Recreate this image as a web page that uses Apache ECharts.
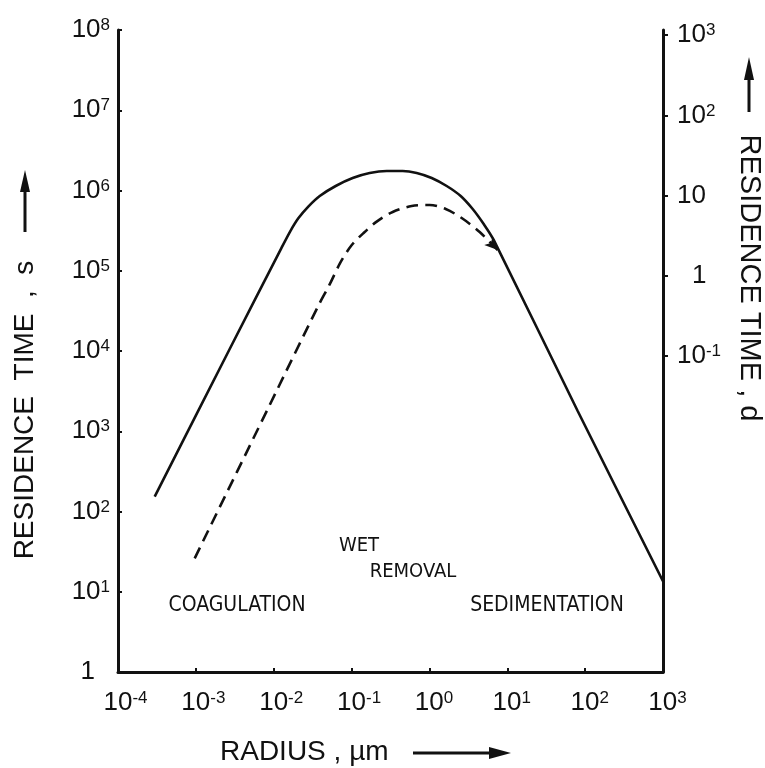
<!DOCTYPE html>
<html>
<head>
<meta charset="utf-8">
<script src="https://cdn.jsdelivr.net/npm/echarts@6/dist/echarts.min.js"></script>
<style>html,body{margin:0;padding:0;background:#fff}#c{width:765px;height:768px}</style>
</head>
<body>
<div id="c"></div>
<script>
// ---- data (radius in µm, residence time in s) ----
const radiusSolid = [2.96e-4, 2.72e-3, 0.0125, 0.0163, 0.0207, 0.0278, 0.039, 0.0625, 0.1033, 0.1709, 0.2826, 0.4535, 0.686, 1.069, 1.666, 2.52, 3.594, 4.977, 6.69, 80.2, 1000];
const timeSolid   = [153, 1.06e4, 1.9e5, 3.1e5, 4.5e5, 6.3e5, 8.54e5, 1.138e6, 1.431e6, 1.652e6, 1.75e6, 1.75e6, 1.652e6, 1.431e6, 1.138e6, 8.54e5, 5.88e5, 3.82e5, 2.42e5, 1788, 13.5];
const radiusDashed = [9.66e-4, 8.88e-3, 0.0367, 0.0525, 0.072, 0.1, 0.145, 0.2102, 0.3374, 0.5918, 1.008, 1.618, 2.597, 4.42, 7.53];
const timeDashed   = [26.1, 2124, 3.535e4, 6.8e4, 1.27e5, 2.08e5, 3.0e5, 4.1e5, 5.4e5, 6.41e5, 6.6e5, 5.88e5, 4.54e5, 3.04e5, 1.814e5];
// ---- tick labels ----
const xTickExponents = [-4, -3, -2, -1, 0, 1, 2, 3];
const leftTickExponents = [0, 1, 2, 3, 4, 5, 6, 7, 8];
const rightTickDays = [0.1, 1, 10, 100, 1000];
const rightTickLabels = ['{b|10}{s|-1}', '{q|}{b|1}', '{b|10}', '{b|10}{s|2}', '{b|10}{s|3}'];
// ---- texts ----
const xTitle = 'RADIUS , µm';
const leftTitle = 'RESIDENCE  TIME  ,  s';
const rightTitle = 'RESIDENCE TIME , d';
const regionLabels = ['COAGULATION', 'WET', 'REMOVAL', 'SEDIMENTATION'];
const SECONDS_PER_DAY = 86400;

const INK = '#111';
const FF = '"Liberation Sans", Arial, sans-serif';
const FC = '"DejaVu Sans Condensed", "Liberation Sans", sans-serif';

function expOf(v) { return Math.round(Math.log10(v)); }

const chart = echarts.init(document.getElementById('c'), null, {renderer: 'canvas'});

const solidData = radiusSolid.map((r, i) => [r, timeSolid[i]]);
const dashedData = radiusDashed.map((r, i) => {
  if (i === radiusDashed.length - 1) {
    return {value: [r, timeDashed[i]], symbol: 'arrow', symbolSize: [9, 13], symbolRotate: -135,
            itemStyle: {color: INK}};
  }
  return [r, timeDashed[i]];
});

const supRich = {
  b: {fontSize: 26, fontFamily: FF, color: INK, lineHeight: 26},
  s: {fontSize: 17, fontFamily: FF, color: INK, lineHeight: 17, verticalAlign: 'top'},
  q: {width: 15},
  pn: {width: 15},
  pp: {width: 9}
};

chart.setOption({
  animation: false,
  backgroundColor: '#fff',
  grid: {left: 118, right: 102, top: 30, bottom: 96, containLabel: false},
  xAxis: {
    type: 'log', logBase: 10, min: 1e-4, max: 1e3, splitNumber: 7,
    axisLine: {show: true, onZero: false, lineStyle: {color: INK, width: 3}},
    axisTick: {show: true, inside: true, length: 4, lineStyle: {color: INK, width: 2}},
    splitLine: {show: false},
    minorTick: {show: false},
    axisLabel: {
      margin: 18,
      formatter: v => {
        const e = expOf(v);
        if (xTickExponents.indexOf(e) < 0) return '';
        return (e < 0 ? '{pn|}' : '{pp|}') + '{b|10}{s|' + e + '}';
      },
      rich: supRich
    }
  },
  yAxis: [{
    type: 'log', logBase: 10, min: 1, max: 1e8, splitNumber: 8, position: 'left',
    axisLine: {show: true, onZero: false, lineStyle: {color: INK, width: 3}},
    axisTick: {show: true, inside: true, length: 4, lineStyle: {color: INK, width: 2}},
    splitLine: {show: false},
    axisLabel: {
      margin: 8,
      formatter: v => {
        const e = expOf(v);
        if (leftTickExponents.indexOf(e) < 0) return '';
        return e === 0 ? '{b|1}{q|}' : '{b|10}{s|' + e + '}';
      },
      rich: supRich
    }
  }, {
    type: 'log', logBase: 10, min: 1 / SECONDS_PER_DAY, max: 1e8 / SECONDS_PER_DAY, position: 'right',
    axisLine: {show: true, onZero: false, lineStyle: {color: INK, width: 3}},
    axisTick: {show: true, inside: false, length: 5, customValues: rightTickDays, lineStyle: {color: INK, width: 2}},
    splitLine: {show: false},
    axisLabel: {
      margin: 14,
      customValues: rightTickDays,
      formatter: v => {
        let best = 0;
        rightTickDays.forEach((d, i) => {
          if (Math.abs(Math.log10(d) - Math.log10(v)) < Math.abs(Math.log10(rightTickDays[best]) - Math.log10(v))) best = i;
        });
        return rightTickLabels[best];
      },
      rich: supRich
    }
  }],
  series: [{
    name: 'total', type: 'line', data: solidData, smooth: 0.3, symbol: 'none',
    lineStyle: {color: INK, width: 2.6}, z: 3
  }, {
    name: 'wet removal', type: 'line', data: dashedData, smooth: 0.3, symbol: 'none', showSymbol: true,
    lineStyle: {color: INK, width: 2.6, type: [12, 7]}, z: 3
  }],
  graphic: [
    {type: 'text', x: 25, y: 410, rotation: Math.PI / 2,
     style: {text: leftTitle, fontSize: 28, fontFamily: FF, fill: INK, align: 'center', verticalAlign: 'middle'}},
    {type: 'line', shape: {x1: 25, y1: 232, x2: 25, y2: 188}, style: {stroke: INK, lineWidth: 3}},
    {type: 'polygon', shape: {points: [[25, 170], [20, 192], [30, 192]]}, style: {fill: INK}},

    {type: 'text', x: 749, y: 278, rotation: -Math.PI / 2,
     style: {text: rightTitle, fontSize: 29, fontFamily: FF, fill: INK, align: 'center', verticalAlign: 'middle'}},
    {type: 'line', shape: {x1: 749, y1: 112, x2: 749, y2: 76}, style: {stroke: INK, lineWidth: 3}},
    {type: 'polygon', shape: {points: [[749, 57], [744, 80], [754, 80]]}, style: {fill: INK}},

    {type: 'text', x: 220, y: 752,
     style: {text: xTitle, fontSize: 28, fontFamily: FF, fill: INK, align: 'left', verticalAlign: 'middle'}},
    {type: 'line', shape: {x1: 413, y1: 753, x2: 494, y2: 753}, style: {stroke: INK, lineWidth: 3}},
    {type: 'polygon', shape: {points: [[511, 753], [489, 747], [489, 759]]}, style: {fill: INK}},

    {type: 'text', x: 237, y: 606, style: {text: regionLabels[0], fontSize: 21, fontFamily: FC, fill: INK, align: 'center', verticalAlign: 'middle'}},
    {type: 'text', x: 359, y: 546, style: {text: regionLabels[1], fontSize: 20, fontFamily: FC, fill: INK, align: 'center', verticalAlign: 'middle'}},
    {type: 'text', x: 413, y: 572, style: {text: regionLabels[2], fontSize: 20, fontFamily: FC, fill: INK, align: 'center', verticalAlign: 'middle'}},
    {type: 'text', x: 547, y: 606, style: {text: regionLabels[3], fontSize: 21, fontFamily: FC, fill: INK, align: 'center', verticalAlign: 'middle'}}
  ]
});
</script>
</body>
</html>
